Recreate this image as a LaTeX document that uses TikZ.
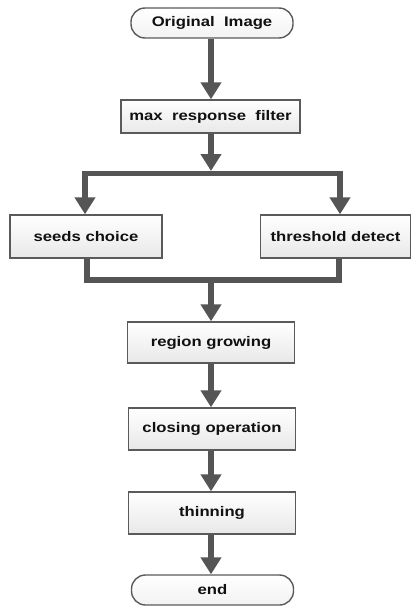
\documentclass[tikz,border=0pt]{standalone}
\usepackage{fontspec}
\newfontfamily\labfont[FakeStretch=1.2]{Liberation Sans}
\usetikzlibrary{arrows.meta}
\definecolor{linegray}{HTML}{555555}
\definecolor{boxgray}{HTML}{5A5A5A}
\definecolor{txt}{HTML}{111111}
\tikzset{
  box/.style={draw=boxgray, line width=1.4pt, top color=white, bottom color=black!9,
    minimum height=#1, inner sep=0pt, font=\labfont\fontsize{13.9}{15}\selectfont\bfseries, text=txt},
  pill/.style={box=30pt, rounded corners=14pt, bottom color=black!5},
  conn/.style={draw=linegray, line width=5.8pt, line join=miter},
  arr/.style={conn, -{Triangle[width=20pt,length=17pt]}}
}
\begin{document}
\begin{tikzpicture}[x=1pt,y=-1pt]
\useasboundingbox (0,0) rectangle (412,607);
\node[pill, minimum width=162pt] (orig) at (212,23) {Original\ \ Image};
\node[box=33pt, minimum width=179pt] (mrf) at (210.5,116.5) {max\ \ response\ \ filter};
\node[box=43pt, minimum width=152pt] (seeds) at (86,236.5) {seeds choice};
\node[box=43pt, minimum width=150pt] (thr) at (335.5,236.5) {threshold detect};
\node[box=41pt, minimum width=167pt] (reg) at (211,342.5) {region growing};
\node[box=42pt, minimum width=167pt] (clo) at (212,429) {closing operation};
\node[box=42pt, minimum width=167pt] (thin) at (212,513) {thinning};
\node[pill, minimum width=162pt] (endn) at (212.5,590) {end};
\coordinate (jtip) at (211,171);
\coordinate (jl) at (82.1,173.5);
\coordinate (jr) at (342.9,173.5);
\coordinate (tl) at (85,171);
\coordinate (tr) at (340,171);
\coordinate (ml) at (87,280);
\coordinate (mr) at (339,280);
\coordinate (mm) at (211,280);
\draw[arr] (orig.south -| jtip) -- (mrf.north -| jtip);
\draw[arr] (mrf.south -| jtip) -- (jtip);
\draw[conn] (jl) -- (jr);
\draw[arr] (tl) -- (seeds.north -| tl);
\draw[arr] (tr) -- (thr.north -| tr);
\draw[conn] (seeds.south -| ml) -- (ml) -- (mr) -- (thr.south -| mr);
\draw[arr] (mm) -- (reg.north -| mm);
\draw[arr] (reg.south -| jtip) -- (clo.north -| jtip);
\draw[arr] (clo.south -| jtip) -- (thin.north -| jtip);
\draw[arr] (thin.south -| jtip) -- (endn.north -| jtip);
\end{tikzpicture}
\end{document}
